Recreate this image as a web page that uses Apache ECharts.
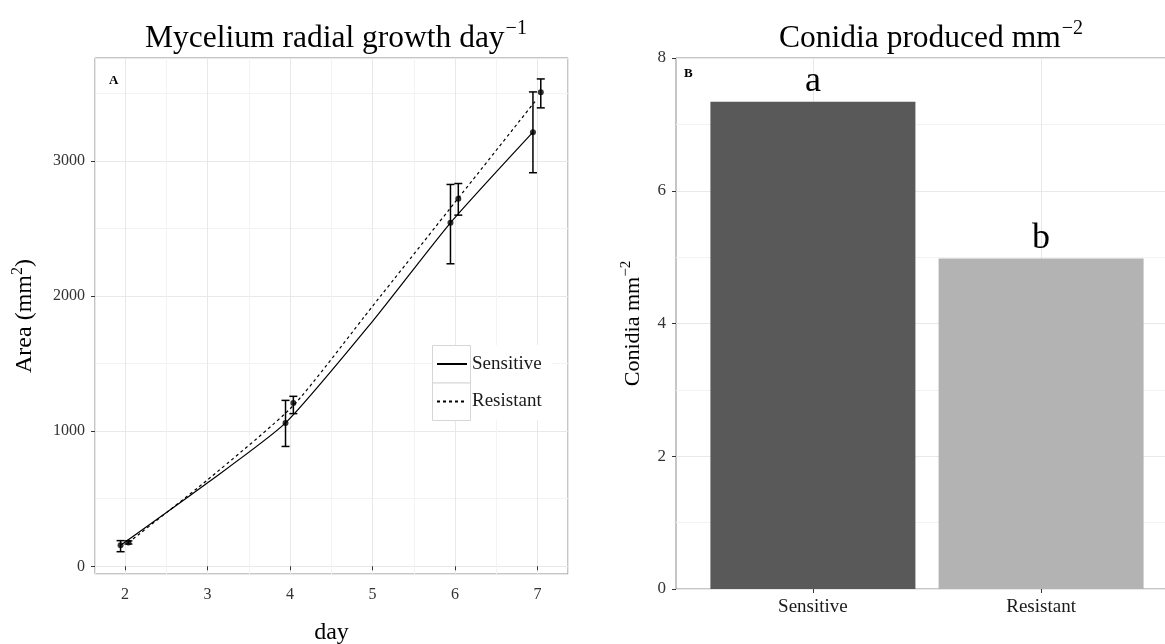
<!DOCTYPE html>
<html>
<head>
<meta charset="utf-8">
<script src="https://cdn.jsdelivr.net/npm/echarts@6/dist/echarts.min.js"></script>
<style>
html, body { margin: 0; padding: 0; background: #fff; }
#chart { width: 1165px; height: 644px; }
</style>
</head>
<body>
<div id="chart"></div>
<script>
// panel A: mycelium area per day (mean and error bar ends)
const days = [2, 4, 6, 7]
const sensMean = [155, 1061, 2542, 3213]
const sensLow = [108, 887, 2239, 2913]
const sensHigh = [190, 1228, 2826, 3511]
const resMean = [176, 1209, 2720, 3509]
const resLow = [165, 1130, 2599, 3393]
const resHigh = [188, 1258, 2833, 3607]
// fitted curves
const sensFitDay = [1.945, 3, 3.945, 5, 5.945, 6.945]
const sensFit = [155, 618, 1061, 1813, 2542, 3213]
const resFitDay = [2.04, 3, 4.04, 5, 6.04, 6.97]
const resFit = [176, 640, 1190, 1925, 2725, 3440]
// panel B: conidia
const strains = ['Sensitive', 'Resistant']
const conidia = [7.34, 4.98]
const groupLetters = ['a', 'b']
const barColors = ['#595959', '#b3b3b3']

const sensShift = -0.055
const resShift = 0.04
const serif = 'Liberation Serif'
const majorGrid = '#e8e8e8'
const minorGrid = '#f3f3f3'

const chartDom = document.getElementById('chart')
const chart = echarts.init(chartDom)

const errorBarItem = function (params, api) {
    const x = api.value(0)
    const lo = api.coord([x, api.value(1)])
    const hi = api.coord([x, api.value(2)])
    const cap = 4
    const style = { stroke: '#000', lineWidth: 1.5 }
    return {
        type: 'group',
        children: [
            { type: 'line', shape: { x1: lo[0], y1: lo[1], x2: hi[0], y2: hi[1] }, style: style },
            { type: 'line', shape: { x1: lo[0] - cap, y1: lo[1], x2: lo[0] + cap, y2: lo[1] }, style: style },
            { type: 'line', shape: { x1: hi[0] - cap, y1: hi[1], x2: hi[0] + cap, y2: hi[1] }, style: style }
        ]
    }
}

const sup = { fontSize: 20, fontWeight: 'normal', fontFamily: serif, color: '#000', verticalAlign: 'bottom', padding: [0, 0, 16, 1] }
const base = { fontSize: 31.5, fontWeight: 'normal', fontFamily: serif, color: '#000', verticalAlign: 'bottom' }

const option = {
    animation: false,
    title: [
        {
            text: '{b|Mycelium radial growth day}{s|−1}',
            left: 331, top: 14, textAlign: 'center',
            textStyle: { fontWeight: 'normal', rich: { b: base, s: sup } }
        },
        {
            text: '{b|Conidia produced mm}{s|−2}',
            left: 926, top: 14, textAlign: 'center',
            textStyle: { fontWeight: 'normal', rich: { b: base, s: sup } }
        },
        { text: 'A', left: 104, top: 69, textStyle: { fontSize: 13, fontWeight: 'bold', fontFamily: serif, color: '#000' } },
        { text: 'B', left: 679, top: 62, textStyle: { fontSize: 13, fontWeight: 'bold', fontFamily: serif, color: '#000' } }
    ],
    grid: [
        { left: 95, top: 58, width: 473, height: 516, show: true, borderColor: '#8c8c8c', borderWidth: 1, outerBoundsMode: 'none' },
        { left: 676, top: 58, width: 502, height: 531, show: true, borderColor: '#8c8c8c', borderWidth: 1, outerBoundsMode: 'none' }
    ],
    legend: {
        data: ['Sensitive', 'Resistant'],
        orient: 'vertical',
        left: 436, top: 354, padding: 0,
        itemWidth: 30, itemHeight: 16, itemGap: 17.5,
        itemStyle: { opacity: 0 },
        textStyle: { fontSize: 19, fontFamily: serif, color: '#1a1a1a', lineHeight: 20 },
        z: 5
    },
    graphic: [
        { type: 'rect', shape: { x: 432, y: 345, width: 120, height: 75 }, style: { fill: '#fff' }, z: 3, silent: true },
        { type: 'rect', shape: { x: 432.5, y: 345.5, width: 38, height: 37.5 }, style: { fill: '#fff', stroke: '#d6d6d6', lineWidth: 1 }, z: 3, silent: true },
        { type: 'rect', shape: { x: 432.5, y: 383, width: 38, height: 37.5 }, style: { fill: '#fff', stroke: '#d6d6d6', lineWidth: 1 }, z: 3, silent: true }
    ],
    xAxis: [
        {
            gridIndex: 0, type: 'value', min: 1.635, max: 7.37,
            name: 'day', nameLocation: 'middle', nameGap: 47,
            nameTextStyle: { fontSize: 24, fontFamily: serif, color: '#000' },
            axisLine: { show: false },
            axisTick: { show: true, length: 4, lineStyle: { color: '#333' } },
            axisLabel: { showMinLabel: false, showMaxLabel: false, fontSize: 16, fontFamily: serif, color: '#333', margin: 13 },
            splitLine: { lineStyle: { color: majorGrid } },
            minorTick: { show: false, splitNumber: 2 },
            minorSplitLine: { show: true, lineStyle: { color: minorGrid } }
        },
        {
            gridIndex: 1, type: 'value', min: 0.4, max: 2.6,
            axisLine: { show: false },
            axisTick: { show: true, length: 4, customValues: [1, 2], lineStyle: { color: '#333' } },
            axisLabel: {
                customValues: [1, 2], fontSize: 19, fontFamily: serif, color: '#1a1a1a', margin: 9,
                formatter: v => strains[Math.round(v) - 1]
            },
            splitLine: { show: false }
        }
    ],
    yAxis: [
        {
            gridIndex: 0, type: 'value', min: -57, max: 3762,
            name: '{b|Area (mm}{s|2}{b|)}', nameLocation: 'middle', nameGap: 58,
            nameTextStyle: {
                rich: {
                    b: { fontSize: 24, fontFamily: serif, color: '#000', verticalAlign: 'bottom' },
                    s: { fontSize: 16, fontFamily: serif, color: '#000', verticalAlign: 'bottom', padding: [0, 0, 11, 0] }
                }
            },
            axisLine: { show: false },
            axisTick: { show: true, length: 4, lineStyle: { color: '#333' } },
            axisLabel: {
                showMinLabel: false, showMaxLabel: false, fontSize: 16, fontFamily: serif, color: '#333', margin: 10,
                formatter: v => String(v)
            },
            splitLine: { lineStyle: { color: majorGrid } },
            minorTick: { show: false, splitNumber: 2 },
            minorSplitLine: { show: true, lineStyle: { color: minorGrid } }
        },
        {
            gridIndex: 1, type: 'value', min: 0, max: 8, interval: 2,
            name: '{b|Conidia mm}{s|−2}', nameLocation: 'middle', nameGap: 32,
            nameTextStyle: {
                rich: {
                    b: { fontSize: 22, fontFamily: serif, color: '#000', verticalAlign: 'bottom' },
                    s: { fontSize: 15, fontFamily: serif, color: '#000', verticalAlign: 'bottom', padding: [0, 0, 10, 0] }
                }
            },
            axisLine: { show: false },
            axisTick: { show: true, length: 4, lineStyle: { color: '#333' } },
            axisLabel: { fontSize: 17, fontFamily: serif, color: '#333', margin: 10 },
            splitLine: { lineStyle: { color: majorGrid } },
            minorTick: { show: false, splitNumber: 2 },
            minorSplitLine: { show: true, lineStyle: { color: minorGrid } }
        }
    ],
    series: [
        {
            name: 'Sensitive', type: 'line', xAxisIndex: 0, yAxisIndex: 0,
            symbol: 'none', smooth: 0.2, z: 2,
            lineStyle: { color: '#000', width: 1.2, type: 'solid' },
            itemStyle: { color: '#000' },
            data: sensFitDay.map((d, i) => [d, sensFit[i]])
        },
        {
            name: 'Resistant', type: 'line', xAxisIndex: 0, yAxisIndex: 0,
            symbol: 'none', smooth: 0.2, z: 2,
            lineStyle: { color: '#000', width: 1.2, type: [3, 3] },
            itemStyle: { color: '#000' },
            data: resFitDay.map((d, i) => [d, resFit[i]])
        },
        {
            type: 'custom', xAxisIndex: 0, yAxisIndex: 0, z: 3,
            renderItem: errorBarItem, encode: { x: 0, y: [1, 2] },
            data: days.map((d, i) => [d + sensShift, sensLow[i], sensHigh[i]])
        },
        {
            type: 'custom', xAxisIndex: 0, yAxisIndex: 0, z: 3,
            renderItem: errorBarItem, encode: { x: 0, y: [1, 2] },
            data: days.map((d, i) => [d + resShift, resLow[i], resHigh[i]])
        },
        {
            type: 'scatter', xAxisIndex: 0, yAxisIndex: 0, z: 4,
            symbol: 'circle', symbolSize: 6, itemStyle: { color: '#000' },
            data: days.map((d, i) => [d + sensShift, sensMean[i]])
        },
        {
            type: 'scatter', xAxisIndex: 0, yAxisIndex: 0, z: 4,
            symbol: 'circle', symbolSize: 6, itemStyle: { color: '#000' },
            data: days.map((d, i) => [d + resShift, resMean[i]])
        },
        {
            type: 'bar', xAxisIndex: 1, yAxisIndex: 1, barWidth: 205, z: 2,
            data: conidia.map((v, i) => ({ value: [i + 1, v], itemStyle: { color: barColors[i] } })),
            label: {
                show: true, position: 'top', distance: 2,
                formatter: p => groupLetters[p.dataIndex],
                fontSize: 36, fontFamily: serif, color: '#000'
            },
            markLine: {
                silent: true, symbol: ['none', 'none'], z: 1,
                label: { show: false },
                lineStyle: { color: majorGrid, type: 'solid', width: 1 },
                data: strains.map((s, i) => ({ xAxis: i + 1 }))
            }
        }
    ]
}

option && chart.setOption(option)
</script>
</body>
</html>
